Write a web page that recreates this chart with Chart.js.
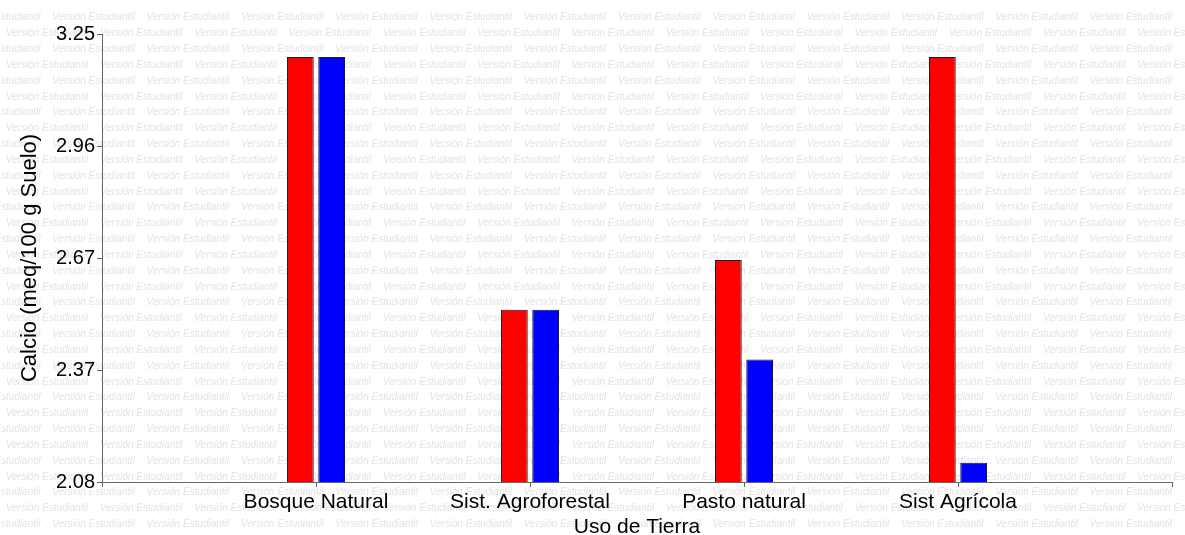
<!DOCTYPE html>
<html>
<head>
<meta charset="utf-8">
<script src="https://cdn.jsdelivr.net/npm/chart.js@4.4.1/dist/chart.umd.min.js"></script>
<style>
html,body{margin:0;padding:0;background:#fff;}
#wrap{width:1185px;height:535px;}
</style>
</head>
<body>
<div id="wrap"><canvas id="c" width="1185" height="535"></canvas></div>
<script>
// ---- data ----
const categories = ['Bosque Natural', 'Sist. Agroforestal', 'Pasto natural', 'Sist Agrícola'];
const redValues  = [3.19, 2.53, 2.66, 3.19];
const blueValues = [3.19, 2.53, 2.40, 2.13];
const yTickValues = [2.08, 2.3725, 2.665, 2.9575, 3.25];
const yTickLabels = ['2.08', '2.37', '2.67', '2.96', '3.25'];
const watermarkText = 'Versión Estudiantil';
const yTitle = 'Calcio (meq/100 g Suelo)';
const xTitle = 'Uso de Tierra';

// padded category list: an empty slot at each end of the axis
const labels = [''].concat(categories, ['']);
const pad = arr => [null].concat(arr, [null]);

const FONT = 'Liberation Sans, Arial, sans-serif';

const watermark = {
  id: 'watermark',
  beforeDraw(chart) {
    const ctx = chart.ctx;
    ctx.save();
    ctx.fillStyle = '#ffffff';
    ctx.fillRect(0, 0, chart.width, chart.height);
    ctx.font = 'italic 10px ' + FONT;
    ctx.fillStyle = '#e3e3e3';
    ctx.textBaseline = 'middle';
    ctx.textAlign = 'left';
    const rowGap = 15.83, colGap = 94.3;
    for (let k = 0; ; k++) {
      const y = 17.7 + k * rowGap;
      if (y > chart.height + 10) break;
      const start = (k % 2 === 0) ? -42 : 5.7;
      for (let x = start; x < chart.width; x += colGap) {
        ctx.fillText(watermarkText, x, y);
      }
    }
    ctx.restore();
  }
};

new Chart(document.getElementById('c'), {
  type: 'bar',
  data: {
    labels: labels,
    datasets: [
      { data: pad(redValues), backgroundColor: '#ff0000', borderColor: '#1a1a1a', borderWidth: 1 },
      { data: pad(blueValues), backgroundColor: '#0000ff', borderColor: '#1a1a1a', borderWidth: 1 }
    ]
  },
  options: {
    responsive: false,
    animation: false,
    events: [],
    categoryPercentage: 0.2925,
    barPercentage: 0.855,
    layout: { padding: { top: 34, right: 13, left: 0, bottom: 0 } },
    plugins: { legend: { display: false }, tooltip: { enabled: false } },
    scales: {
      x: {
        type: 'category',
        offset: false,
        grid: { offset: false, drawOnChartArea: false, drawTicks: true, tickLength: 5, color: '#666' },
        border: { display: true, color: '#666', width: 1 },
        ticks: { color: '#000', font: { family: FONT, size: 21 }, padding: 3, maxRotation: 0, autoSkip: false },
        title: { display: true, text: xTitle, color: '#000', font: { family: FONT, size: 21, lineHeight: 0.72 }, padding: { top: 0, bottom: 0 } },
        afterFit(scale) { scale.height = 53; }
      },
      y: {
        min: 2.08,
        max: 3.25,
        grid: { drawOnChartArea: false, drawTicks: true, tickLength: 5, color: '#666' },
        border: { display: true, color: '#666', width: 1 },
        afterBuildTicks(scale) { scale.ticks = yTickValues.map(v => ({ value: v })); },
        ticks: {
          color: '#000', font: { family: FONT, size: 20 }, padding: 2,
          callback: (v, i) => yTickLabels[i]
        },
        title: { display: true, text: yTitle, color: '#000', font: { family: FONT, size: 22, lineHeight: 1 }, padding: { top: 19, bottom: 0 } },
        afterFit(scale) { scale.width = 102; }
      }
    }
  },
  plugins: [watermark]
});
</script>
</body>
</html>
